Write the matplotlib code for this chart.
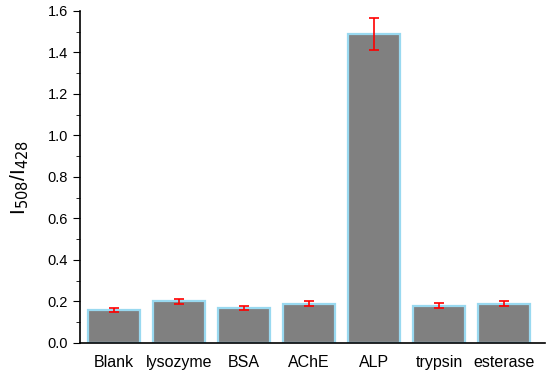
import matplotlib
matplotlib.use("Agg")
import matplotlib.pyplot as plt
from matplotlib.ticker import MultipleLocator

plt.rcParams["font.family"] = ["Liberation Sans", "DejaVu Sans"]

labels = ["Blank", "lysozyme", "BSA", "AChE", "ALP", "trypsin", "esterase"]
values = [0.160, 0.200, 0.170, 0.190, 1.490, 0.180, 0.190]
errors = [0.010, 0.012, 0.009, 0.011, 0.076, 0.011, 0.012]

fig = plt.figure(figsize=(5.5, 3.79), dpi=100)
ax = fig.add_axes([0.145, 0.095, 0.845, 0.876])

x = list(range(len(labels)))
ax.bar(x, values, width=0.8, color="#808080", edgecolor="#99d9f0", linewidth=1.6, zorder=2)
ax.errorbar(x, values, yerr=errors, fmt="none", ecolor="red", elinewidth=1.2,
            capsize=3.5, capthick=1.2, zorder=3)

ax.set_xlim(-0.52, 6.62)
ax.set_ylim(0, 1.6)
ax.set_xticks(x)
ax.set_xticklabels(labels, fontsize=11.5)
ax.tick_params(axis="x", length=0, pad=9)
ax.yaxis.set_major_locator(MultipleLocator(0.2))
ax.yaxis.set_minor_locator(MultipleLocator(0.1))
ax.yaxis.set_major_formatter(plt.FuncFormatter(lambda v, p: f"{v:.1f}"))
ax.tick_params(axis="y", which="major", length=5, labelsize=10.5, direction="out")
ax.tick_params(axis="y", which="minor", length=3, direction="out")
for s in ["top", "right"]:
    ax.spines[s].set_visible(False)
ax.spines["left"].set_linewidth(1.2)
ax.spines["bottom"].set_linewidth(1.2)
ax.set_ylabel("I$_{508}$/I$_{428}$", fontsize=15)
ax.yaxis.set_label_coords(-0.105, 0.5)

fig.savefig("out.png", dpi=100)
